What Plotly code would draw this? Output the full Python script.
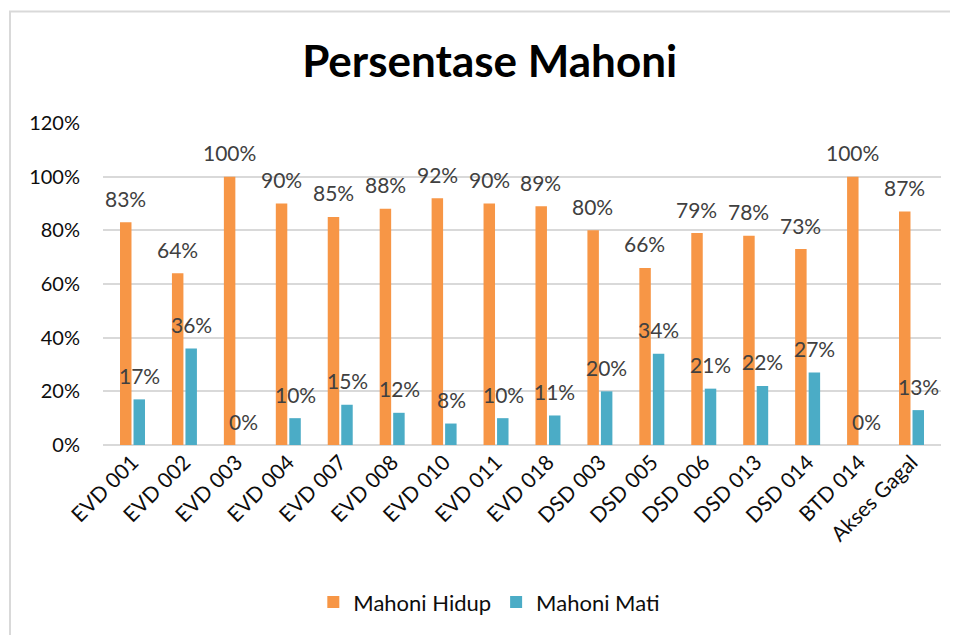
import plotly.graph_objects as go

categories = ["EVD 001", "EVD 002", "EVD 003", "EVD 004", "EVD 007", "EVD 008",
              "EVD 010", "EVD 011", "EVD 018", "DSD 003", "DSD 005", "DSD 006",
              "DSD 013", "DSD 014", "BTD 014", "Akses Gagal"]
hidup = [0.83, 0.64, 1.00, 0.90, 0.85, 0.88, 0.92, 0.90, 0.89, 0.80, 0.66, 0.79,
         0.78, 0.73, 1.00, 0.87]
mati = [0.17, 0.36, 0.00, 0.10, 0.15, 0.12, 0.08, 0.10, 0.11, 0.20, 0.34, 0.21,
        0.22, 0.27, 0.00, 0.13]

ORANGE = "#F79646"
BLUE = "#4BACC6"
FONT = "Lato"

fig = go.Figure()
fig.add_trace(go.Bar(x=categories, y=hidup, name="Mahoni Hidup",
                     marker=dict(color=ORANGE, line_width=0)))
fig.add_trace(go.Bar(x=categories, y=mati, name="Mahoni Mati",
                     marker=dict(color=BLUE, line_width=0)))

# data labels, lifted above the bar ends like the Excel original
for series, shift in ((hidup, -7), (mati, 7)):
    for cat, val in zip(categories, series):
        fig.add_annotation(x=cat, y=val, text=f"{val:.0%}", showarrow=False,
                           xshift=shift, yshift=24, yanchor="middle",
                           font=dict(family=FONT, size=21, color="#404040"))

# outer chart border
fig.add_shape(type="rect", xref="paper", yref="paper",
              x0=-0.111, x1=1.1, y0=-0.7, y1=1.346,
              line=dict(color="#D9D9D9", width=2), layer="below")

# page body adds an 8px margin, so the figure is 8px smaller than the window
fig.update_layout(
    width=950, height=627,
    margin=dict(l=95, r=17, t=115, b=188),
    paper_bgcolor="white", plot_bgcolor="white",
    title=dict(text="<b>Persentase Mahoni</b>", x=0.507, xanchor="center",
               y=0.914, yanchor="middle",
               font=dict(family=FONT, size=44, color="black")),
    barmode="group", bargap=0.48, bargroupgap=0.15,
    showlegend=True,
    legend=dict(orientation="h", x=0.461, xanchor="center", y=-0.488,
                yanchor="middle", font=dict(family=FONT, size=22, color="#0d0d0d"),
                itemsizing="constant", itemwidth=30, traceorder="normal"),
    font=dict(family=FONT, size=20, color="#0d0d0d"),
)
fig.update_yaxes(range=[0, 1.2], dtick=0.2, tickformat=".0%",
                 showgrid=True, gridcolor="#D9D9D9", gridwidth=2,
                 zeroline=True, zerolinecolor="#D9D9D9", zerolinewidth=2,
                 showline=False, ticklabelstandoff=22,
                 tickfont=dict(family=FONT, size=20, color="#0d0d0d"))
fig.update_xaxes(tickangle=-45, showgrid=False, showline=False,
                 tickfont=dict(family=FONT, size=21, color="#0d0d0d"))

fig.write_html("out.html")
